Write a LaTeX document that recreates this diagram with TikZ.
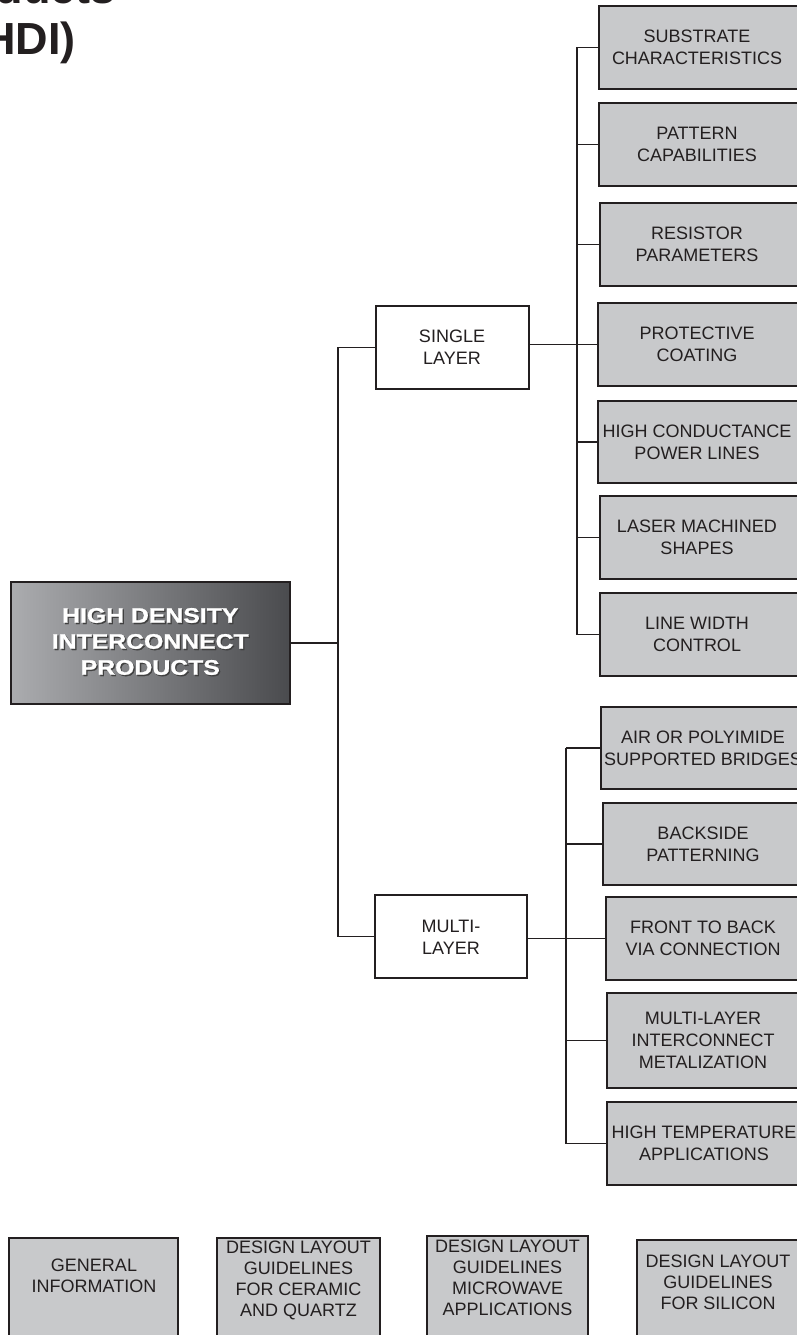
\documentclass[tikz,border=0pt]{standalone}
\usepackage{fontspec}
\setmainfont{Liberation Sans}
\newfontfamily\heavy[FakeStretch=1.18,FakeBold=1.2]{Liberation Sans Bold}
\definecolor{ink}{HTML}{231F20}
\definecolor{boxgray}{HTML}{C8C9CB}
\definecolor{gradL}{HTML}{ABACAF}
\definecolor{gradR}{HTML}{4A4B4E}
\tikzset{
  gboxs/.style={draw=ink, line width=2, fill=boxgray, inner sep=0},
  wboxs/.style={draw=ink, line width=2, fill=white, inner sep=0},
  btxt/.style={text=ink, align=center, inner sep=0, font=\fontsize{18}{22}\selectfont},
  bbtxt/.style={text=ink, align=center, inner sep=0, font=\fontsize{18}{21}\selectfont},
  conn/.style={draw=ink, line width=1.8},
  ttl/.style={text=ink, inner sep=0, anchor=base east, font=\fontsize{45}{50}\selectfont\bfseries},
  mtxt/.style={align=center, inner sep=0, font=\heavy\fontsize{21}{26}\selectfont}
}
% name, left, top, right, bottom, text x, text y, text, style
\newcommand\graybox[9]{%
  \node[gboxs, minimum width={(#4-#2)*1pt}, minimum height={(#5-#3)*1pt}] (#1) at ({(#2+#4)/2},{(#3+#5)/2}) {};
  \node[#9] at (#6,#7) {#8};
}
\begin{document}
\begin{tikzpicture}[x=1pt,y=-1pt]
\useasboundingbox (0,0) rectangle (797,1335);
\clip (0,0) rectangle (797,1335);

% title fragment
\node[ttl] (t1) at (116,3.5) {Products};
\node[ttl] (t2) at (76,55) {(HDI)};

% main box
\node[draw=ink, line width=2, left color=gradL, right color=gradR, inner sep=0,
      minimum width=279, minimum height=122] (main) at (150.5,643) {};
\node[mtxt, text=black!75] at (151.6,642.8) {HIGH DENSITY\\INTERCONNECT\\PRODUCTS};
\node[mtxt, text=white] at (150.3,641.5) {HIGH DENSITY\\INTERCONNECT\\PRODUCTS};

% second level
\node[wboxs, minimum width=153, minimum height=83] (sl) at (452.5,347.5) {};
\node[btxt] at (452,347) {SINGLE\\LAYER};
\node[wboxs, minimum width=152, minimum height=83] (ml) at (451,936.5) {};
\node[btxt] at (451,937) {MULTI-\\LAYER};

% single layer leaves
\graybox{s1}{599}{6}{812}{89}{697}{47.5}{SUBSTRATE\\CHARACTERISTICS}{btxt}
\graybox{s2}{599}{103}{812}{186}{697}{144.5}{PATTERN\\CAPABILITIES}{btxt}
\graybox{s3}{600}{203}{812}{286}{697}{244.5}{RESISTOR\\PARAMETERS}{btxt}
\graybox{s4}{598}{303}{812}{386}{697}{344.5}{PROTECTIVE\\COATING}{btxt}
\graybox{s5}{598}{401}{812}{483}{697}{442}{HIGH CONDUCTANCE\\POWER LINES}{btxt}
\graybox{s6}{600}{496}{812}{579}{697}{537.5}{LASER MACHINED\\SHAPES}{btxt}
\graybox{s7}{600}{593}{812}{676}{697}{634.5}{LINE WIDTH\\CONTROL}{btxt}

% multi layer leaves
\graybox{m1}{601}{707}{812}{789}{703}{748}{AIR OR POLYIMIDE\\SUPPORTED BRIDGES}{btxt}
\graybox{m2}{603}{803}{812}{885}{703}{844}{BACKSIDE\\PATTERNING}{btxt}
\graybox{m3}{606}{897}{812}{980}{703}{938.5}{FRONT TO BACK\\VIA CONNECTION}{btxt}
\graybox{m4}{607}{993}{812}{1088}{703}{1040.5}{MULTI-LAYER\\INTERCONNECT\\METALIZATION}{btxt}
\graybox{m5}{607}{1102}{812}{1185}{704}{1143.5}{HIGH TEMPERATURE\\APPLICATIONS}{btxt}

% bottom row
\graybox{b1}{9}{1238}{178}{1350}{94}{1276}{GENERAL\\INFORMATION}{bbtxt}
\graybox{b2}{217}{1238}{380}{1350}{298.5}{1280}{DESIGN LAYOUT\\GUIDELINES\\FOR CERAMIC\\AND QUARTZ}{bbtxt}
\graybox{b3}{427}{1236}{588}{1350}{507.5}{1278}{DESIGN LAYOUT\\GUIDELINES\\MICROWAVE\\APPLICATIONS}{bbtxt}
\graybox{b4}{637}{1240}{812}{1350}{718}{1282}{DESIGN LAYOUT\\GUIDELINES\\FOR SILICON}{bbtxt}

% connectors: main
\coordinate (ms) at (338,0);
\draw[conn] (main.east) -- (ms |- main.east);
\draw[conn] (sl.west) -- (ms |- sl.west) -- (ms |- ml.west) -- (ml.west);

% connectors: single layer
\coordinate (us) at (577,0);
\draw[conn] (sl.east |- s4.west) -- (s4.west);
\draw[conn] (us |- s1.west) -- (us |- s7.west);
\foreach \n in {s1,s2,s3,s5,s6,s7} {\draw[conn] (us |- \n.west) -- (\n.west);}

% connectors: multi layer
\coordinate (ls) at (566,0);
\draw[conn] (ml.east |- m3.west) -- (m3.west);
\draw[conn] (ls |- m1.west) -- (ls |- m5.west);
\foreach \n in {m1,m2,m4,m5} {\draw[conn] (ls |- \n.west) -- (\n.west);}
\end{tikzpicture}
\end{document}
